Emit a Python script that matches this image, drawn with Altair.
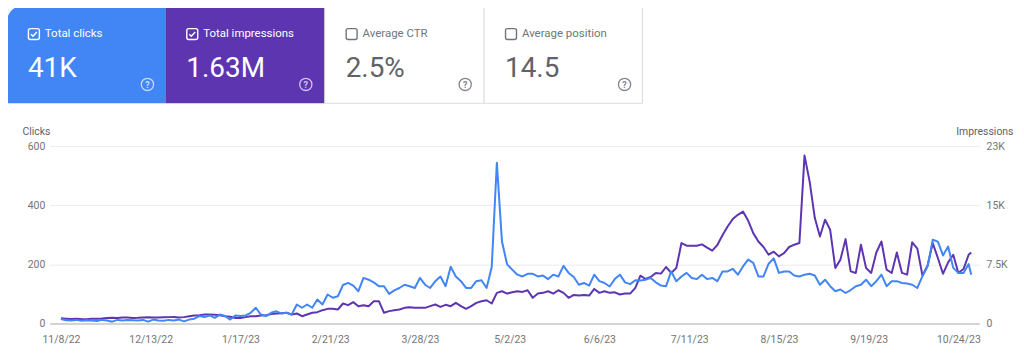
import altair as alt
import pandas as pd

# ---------------- data ----------------
# one reading every 2 days from 2022-11-08, last reading on 2023-10-29
dates = list(pd.date_range("2022-11-08", "2023-10-28", freq="2D").strftime("%Y-%m-%d")) + ["2023-10-29"]

clicks = [
    15, 11, 10, 12, 9, 11, 10, 8, 12, 10, 6, 12, 10, 12, 11, 10, 12, 6, 13, 10, 9, 12, 10,
    13, 7, 13, 16, 25, 22, 27, 19, 30, 25, 13, 27, 25, 27, 36, 53, 30, 25, 36, 41, 34, 36, 30, 64, 53, 64, 53, 81, 64, 98,
    87, 92, 130, 137, 128, 109, 154, 148, 139, 126, 126, 100, 112, 120, 131, 126, 120, 154, 131, 120, 143, 159, 126, 192, 159, 143, 120,
    120, 143, 146, 120, 190, 544, 277, 200, 182, 165, 159, 168, 168, 159, 162, 150, 165, 159, 195, 171, 157, 131, 137, 128, 165, 143, 137,
    125, 150, 165, 139, 133, 146, 145, 148, 154, 139, 128, 126, 176, 143, 159, 171, 154, 150, 165, 150, 154, 143, 176, 176, 185, 165, 193,
    216, 205, 159, 159, 202, 220, 171, 176, 176, 162, 159, 165, 168, 162, 131, 148, 126, 109, 115, 103, 113, 126, 131, 148, 126, 143, 165,
    126, 143, 143, 137, 135, 131, 120, 160, 193, 283, 277, 230, 260, 188, 171, 171, 201, 165,
]

impressions = [
    650, 600, 560, 600, 560, 540, 600, 580, 620, 700, 720, 700, 760, 740, 700, 720, 760, 780, 740, 760, 780, 800, 820,
    760, 800, 920, 1000, 1050, 1140, 1140, 1100, 1050, 920, 850, 700, 700, 800, 920, 920, 1000, 1050, 1180, 1260, 1300, 1350, 1140, 1260, 920, 1140, 1350, 1430, 1680, 1850,
    1850, 1770, 2530, 2320, 2700, 2190, 2320, 2190, 2820, 2820, 1350, 1560, 1680, 1770, 1980, 2060, 1980, 1980, 1980, 2190, 2400, 2100, 2360, 2190, 2610, 2190, 1850,
    2200, 2610, 2820, 2940, 2530, 3880, 4080, 3790, 3950, 4080, 4000, 4210, 3250, 3790, 3880, 4080, 3790, 4210, 3880, 3250, 3620, 3540, 3620, 3540, 4380, 3880, 4080,
    3880, 3950, 3670, 3790, 3790, 4510, 6060, 5640, 5900, 6410, 6320, 7160, 6410, 7040, 10200, 9860, 9860, 9860, 10030, 9610, 9230, 9950, 11200, 12300, 13240, 13780, 14200,
    13060, 11460, 10400, 9700, 8720, 9100, 8510, 8930, 9700, 9990, 10200, 21300, 18000, 13400, 11040, 13150, 11880, 7040, 8100, 10700, 6610, 6410, 9990, 7040, 6410, 9000, 10400,
    6830, 6400, 9000, 6410, 6190, 10300, 9500, 6060, 7350, 10200, 8300, 6300, 7750, 8720, 6410, 6900, 8720, 9010,
]

tick_dates = ["2022-11-08", "2022-12-13", "2023-01-17", "2023-02-21", "2023-03-28", "2023-05-02",
              "2023-06-06", "2023-07-11", "2023-08-15", "2023-09-19", "2023-10-24"]
click_ticks = [0, 200, 400, 600]
imp_ticks = [0, 7500, 15000, 22500]
imp_tick_labels = ["0", "7.5K", "15K", "23K"]

card_titles = ["Total clicks", "Total impressions", "Average CTR", "Average position"]
card_values = ["41K", "1.63M", "2.5%", "14.5"]
card_selected = [True, True, False, False]

df = pd.DataFrame({"date": dates, "clicks": clicks, "impressions": impressions})

# ---------------- styling / layout ----------------
W, H = 933, 178
FONT = "Roboto"
BLUE, PURPLE = "#4285f4", "#5e35b1"
card_fills = [BLUE, PURPLE, "white", "white"]
card_left = [-43, 116, 276, 436]
card_right = [116, 276, 436, 595]
CARD_TOP, CARD_BOTTOM = -141, -43


def dt(s, h=0, m=0):
    y, mo, d = (int(v) for v in s.split("-"))
    return alt.DateTime(year=y, month=mo, date=d, hours=h, minutes=m, utc=True)


one = alt.Data(values=[{"k": 1}])


def deco():
    return alt.Chart(one)


decos = []
# light page background peeking through the rounded corner
decos.append(deco().mark_rect(fill="#eef3fc").encode(
    x=alt.value(-42), x2=alt.value(-26), y=alt.value(-138), y2=alt.value(-122)))

for i in range(4):
    l, r = card_left[i], card_right[i]
    sel = card_selected[i]
    fg = "white" if sel else "#5f6368"
    lab = "white" if sel else "#70757a"
    icon = "white" if sel else "#80868b"
    if sel:
        rect = deco().mark_rect(fill=card_fills[i], cornerRadiusTopLeft=16 if i == 0 else 0)
    else:
        rect = deco().mark_rect(fill="white", stroke="#dadce0", strokeWidth=1)
    decos.append(rect.encode(x=alt.value(l), x2=alt.value(r), y=alt.value(CARD_TOP), y2=alt.value(CARD_BOTTOM)))
    # checkbox
    decos.append(deco().mark_rect(fill="transparent", stroke=icon if sel else "#70757a", strokeWidth=1.4,
                                  cornerRadius=2).encode(
        x=alt.value(l + 21.5), x2=alt.value(l + 32.5), y=alt.value(-118), y2=alt.value(-107)))
    if sel:
        decos.append(deco().mark_point(shape="M-0.62,0.02L-0.2,0.44L0.62,-0.42", size=90, filled=False,
                                       color="white", strokeWidth=1.5, opacity=1).encode(
            x=alt.value(l + 27), y=alt.value(-112.5)))
    decos.append(deco().mark_text(text=card_titles[i], align="left", baseline="middle", fontSize=11.5,
                                  color=lab, font=FONT).encode(x=alt.value(l + 38), y=alt.value(-113)))
    decos.append(deco().mark_text(text=card_values[i], align="left", baseline="alphabetic", fontSize=28,
                                  color=fg, font=FONT).encode(x=alt.value(l + 21), y=alt.value(-69.5)))
    decos.append(deco().mark_point(shape="circle", size=150, filled=False, strokeWidth=1.3, color=icon,
                                   opacity=0.7 if sel else 1).encode(x=alt.value(l + 141), y=alt.value(-62)))
    decos.append(deco().mark_text(text="?", align="center", baseline="middle", fontSize=9, fontWeight="bold",
                                  color=icon, opacity=0.7 if sel else 1, font=FONT).encode(
        x=alt.value(l + 141), y=alt.value(-61.5)))

x_enc = alt.X(
    "date:T",
    scale=alt.Scale(type="utc", domain=[dt("2022-11-03", 16), dt("2023-11-01", 2, 24)]),
    axis=alt.Axis(values=[dt(s) for s in tick_dates],
                  labelExpr="utcFormat(datum.value, '%-m/%-d/%y')",
                  title=None, grid=False, ticks=False, tickSize=0, domain=True,
                  domainColor="#d3d3d3", domainWidth=2, labelPadding=11,
                  labelFontSize=10.5, labelColor="#757575", labelFont=FONT,
                  labelFlush=False, labelOverlap=False, zindex=1),
)

y_click = alt.Y(
    "clicks:Q",
    scale=alt.Scale(domain=[0, 600], nice=False),
    axis=alt.Axis(values=click_ticks, format="d", orient="left", title="Clicks",
                  titleAngle=0, titleAlign="left", titleBaseline="middle", titleX=-28, titleY=-15,
                  titleFontSize=10.5, titleFontWeight="normal", titleColor="#5f6368", titleFont=FONT,
                  grid=True, gridColor="#ebebeb", gridWidth=1, domain=False, ticks=False, tickSize=0,
                  labelPadding=5, labelFontSize=10.5, labelColor="#757575", labelFont=FONT),
)

imp_expr = " : ".join(f"datum.value == {v} ? '{t}'" for v, t in zip(imp_ticks, imp_tick_labels)) + " : ''"
y_imp = alt.Y(
    "impressions:Q",
    scale=alt.Scale(domain=[0, 22500], nice=False),
    axis=alt.Axis(values=imp_ticks, labelExpr=imp_expr, orient="right", title="Impressions",
                  titleAngle=0, titleAlign="right", titleBaseline="middle", titleX=34, titleY=-15,
                  titleFontSize=10.5, titleFontWeight="normal", titleColor="#5f6368", titleFont=FONT,
                  grid=False, domain=False, ticks=False, tickSize=0,
                  labelPadding=7, labelFontSize=10.5, labelColor="#757575", labelFont=FONT),
)

clicks_line = alt.Chart(df).mark_line(color=BLUE, strokeWidth=2, strokeJoin="round").encode(x=x_enc, y=y_click)
imp_line = alt.Chart(df).mark_line(color=PURPLE, strokeWidth=2, strokeJoin="round").encode(x=x_enc, y=y_imp)

# impressions drawn first, clicks on top (as in the reference)
inner = alt.layer(*decos, imp_line)

chart = (
    alt.layer(inner, clicks_line)
    .resolve_scale(y="independent")
    .properties(
        width=W, height=H,
        autosize=alt.AutoSizeParams(type="none"),
        padding={"left": 42, "top": 138, "right": 37, "bottom": 29},
    )
    .configure(background="white", font=FONT)
    .configure_view(stroke="transparent")
)

chart.save("out.html", embed_options={"renderer": "svg", "actions": False})
